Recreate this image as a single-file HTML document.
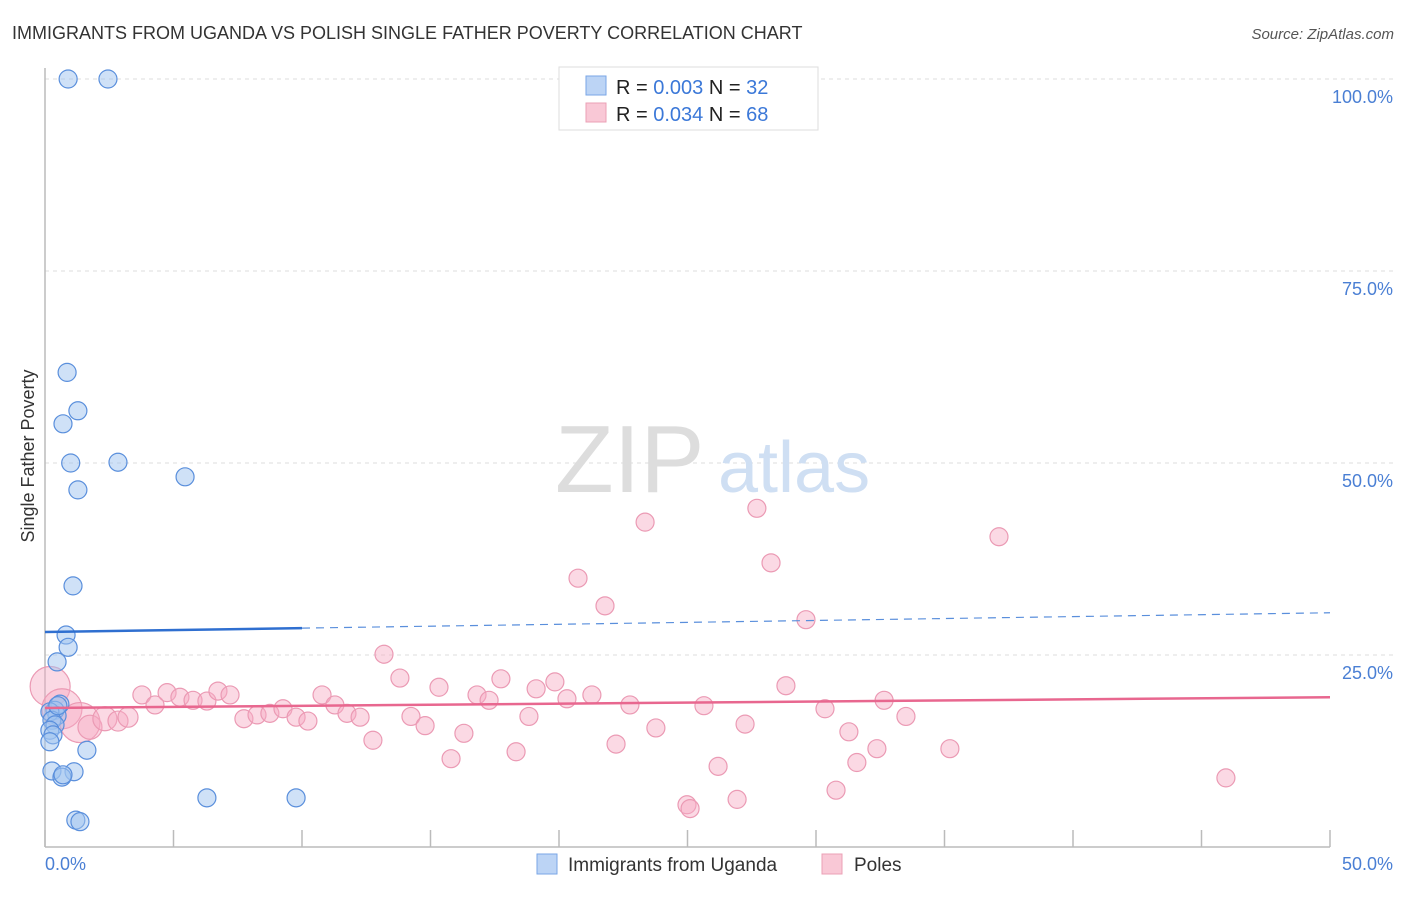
<!DOCTYPE html>
<html><head><meta charset="utf-8"><style>
body{margin:0;background:#fff;font-family:"Liberation Sans",sans-serif}
svg text{font-family:"Liberation Sans",sans-serif}
</style></head><body>
<svg id="chart" width="1406" height="892" xmlns="http://www.w3.org/2000/svg">
<text x="12" y="39" font-size="18" fill="#333">IMMIGRANTS FROM UGANDA VS POLISH SINGLE FATHER POVERTY CORRELATION CHART</text>
<text x="1394" y="39" font-size="15" fill="#555" font-style="italic" text-anchor="end">Source: ZipAtlas.com</text>
<text x="34" y="456" font-size="18" fill="#333" text-anchor="middle" transform="rotate(-90 34 456)">Single Father Poverty</text>
<g id="grid"></g>
<g id="ticks"></g>
<line x1="45" y1="68" x2="45" y2="847" stroke="#bbb" stroke-width="1.5"/>
<line x1="45" y1="847" x2="1330" y2="847" stroke="#bbb" stroke-width="1.5"/>
<text x="555" y="492" font-size="96" fill="#ddd" font-family="Liberation Serif">ZIP</text>
<text x="718" y="492" font-size="72" fill="#cfdff3">atlas</text>
<g id="pink"></g>
<g id="blue"></g>
<g id="trends"></g>
<text x="45" y="870" font-size="18" fill="#4a7fd4">0.0%</text>
<text x="1393" y="870" font-size="18" fill="#4a7fd4" text-anchor="end">50.0%</text>
<g>
<rect x="559" y="67" width="259" height="63" fill="#fff" stroke="#ddd"/>
<rect x="586" y="76" width="20" height="19" fill="#bcd4f5" stroke="#7aa6e6"/>
<rect x="586" y="103" width="20" height="19" fill="#f9c8d6" stroke="#eba0b6"/>
<text x="616" y="94" font-size="20" fill="#222">R = <tspan fill="#3b78d8">0.003</tspan>   N = <tspan fill="#3b78d8">32</tspan></text>
<text x="616" y="121" font-size="20" fill="#222">R = <tspan fill="#3b78d8">0.034</tspan>   N = <tspan fill="#3b78d8">68</tspan></text>
</g>
<g>
<rect x="537" y="854" width="20" height="20" fill="#bcd4f5" stroke="#7aa6e6"/>
<text x="568" y="871" font-size="19" fill="#333">Immigrants from Uganda</text>
<rect x="822" y="854" width="20" height="20" fill="#f9c8d6" stroke="#eba0b6"/>
<text x="854" y="871" font-size="19" fill="#333">Poles</text>
</g>
</svg>
<script>
const yTicks=[25,50,75,100];
const xTickVals=[0,5,10,15,20,25,30,35,40,45,50];
const blueX=[0.9,2.45,0.86,1.28,0.7,1.0,2.84,1.28,5.45,1.09,0.82,0.9,0.47,0.58,0.39,0.47,0.19,0.27,0.39,0.19,0.31,0.19,1.63,0.27,1.13,0.66,0.7,6.3,9.77,1.2,1.36,0.5];
const blueY=[100,100,61.8,56.8,55.1,50.0,50.1,46.5,48.2,34.0,27.6,26.0,24.1,18.6,17.8,17.1,17.6,16.5,15.9,15.2,14.6,13.7,12.6,9.9,9.8,9.1,9.4,6.4,6.4,3.5,3.3,18.4];
const pinkX=[0.2,0.66,1.36,1.75,2.33,2.84,3.23,3.77,4.28,4.75,5.25,5.76,6.3,6.73,7.2,7.74,8.25,8.75,9.26,9.77,10.23,10.78,11.28,11.75,12.26,12.76,13.19,13.81,14.24,14.79,15.33,15.8,16.3,16.81,17.28,17.74,18.33,18.83,19.11,19.84,20.31,20.74,21.28,21.79,22.22,22.76,23.35,23.77,24.98,25.1,25.64,26.19,26.93,27.24,27.7,28.25,28.83,29.61,30.35,30.78,31.28,31.59,32.37,32.65,33.5,35.21,37.12,45.95];
const pinkY=[20.9,18.0,16.2,15.6,16.7,16.4,16.9,19.8,18.5,20.1,19.5,19.1,19.0,20.3,19.8,16.7,17.2,17.4,18.0,16.9,16.4,19.8,18.5,17.4,16.9,13.9,25.1,22.0,17.0,15.8,20.8,11.5,14.8,19.8,19.1,21.9,12.4,17.0,20.6,21.5,19.3,35.0,19.8,31.4,13.4,18.5,42.3,15.5,5.5,5.0,18.4,10.5,6.2,16.0,44.1,37.0,21.0,29.6,18.0,7.4,15.0,11.0,12.8,19.1,17.0,12.8,40.4,9.0];
const pinkR=[20,20,20,12,12,10,10,9,9,9,9,9,9,9,9,9,9,9,9,9,9,9,9,9,9,9,9,9,9,9,9,9,9,9,9,9,9,9,9,9,9,9,9,9,9,9,9,9,9,9,9,9,9,9,9,9,9,9,9,9,9,9,9,9,9,9,9,9];
const blueTrend=[28.0,30.5];
const pinkTrend=[18.1,19.5];
const xs=v=>45+v*25.7, ys=v=>847-v*7.68;
const NS='http://www.w3.org/2000/svg';
function mk(tag,attrs,parent){const e=document.createElementNS(NS,tag);for(const k in attrs)e.setAttribute(k,attrs[k]);document.getElementById(parent).appendChild(e);return e;}
yTicks.forEach(t=>{
 const l=mk('line',{x1:45,x2:1393,y1:ys(t),y2:ys(t),stroke:'#ddd','stroke-dasharray':'4,4'},'grid');
 
 
 const tx=mk('text',{x:1393,y:ys(t)+24,'font-size':18,fill:'#4a7fd4','text-anchor':'end'},'grid');
 tx.textContent=t.toFixed(1)+'%';
 
 
});
xTickVals.forEach(t=>{
 const l=mk('line',{x1:xs(t),x2:xs(t),y1:830,y2:847,stroke:'#bbb','stroke-width':1.5},'ticks');
 
 
});
pinkX.forEach((x,i)=>{
 const c=mk('circle',{cx:xs(x),cy:ys(pinkY[i]),r:pinkR[i],fill:'rgba(246,170,195,0.45)',stroke:'#eb9ab4','stroke-width':1.2},'pink');
 
 
});
blueX.forEach((x,i)=>{
 const c=mk('circle',{cx:xs(x),cy:ys(blueY[i]),r:9,fill:'rgba(160,195,240,0.5)',stroke:'#5a8fdc','stroke-width':1.2},'blue');
 
 
});
const bMid=blueTrend[0]+(blueTrend[1]-blueTrend[0])*(10/50);
let l1=mk('line',{x1:xs(0),y1:ys(blueTrend[0]),x2:xs(10),y2:ys(bMid),stroke:'#2f6fd0','stroke-width':2.5},'trends');


let l2=mk('line',{x1:xs(10),y1:ys(bMid),x2:xs(50),y2:ys(blueTrend[1]),stroke:'#5a8fdc','stroke-width':1.2,'stroke-dasharray':'8,6'},'trends');


let l3=mk('line',{x1:xs(0),y1:ys(pinkTrend[0]),x2:xs(50),y2:ys(pinkTrend[1]),stroke:'#e8678f','stroke-width':2.5},'trends');


</script>
</body></html>
